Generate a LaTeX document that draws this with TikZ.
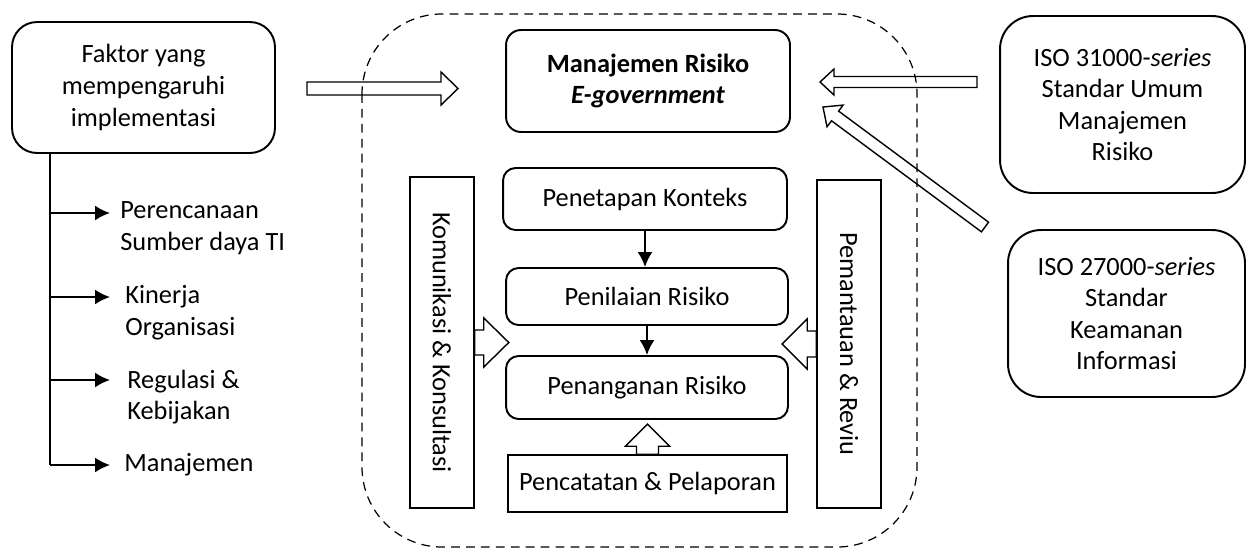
\documentclass[tikz,border=0pt]{standalone}
\usepackage{fontspec}
\setmainfont{Carlito}
\usetikzlibrary{calc,arrows.meta}

\newcommand{\hollowarrow}[5]{%
	\coordinate (ha) at ($(#2)!#5!(#1)$);
	\draw[hollow] ($(#1)!#3!90:(#2)$) -- ($(ha)!#3!90:(#2)$) -- ($(ha)!#4!90:(#2)$) -- (#2)
		-- ($(ha)!#4!-90:(#2)$) -- ($(ha)!#3!-90:(#2)$) -- ($(#1)!#3!-90:(#2)$) -- cycle;}

\begin{document}
\begin{tikzpicture}[x=0.02cm,y=-0.02cm,
		every node/.style={font=\fontsize{15}{18}\selectfont,align=center,inner sep=0pt},
		roundbox/.style={draw,line width=1.1pt,rounded corners=0.25cm},
		sharpbox/.style={draw,line width=0.9pt},
		item/.style={anchor=west,align=left},
		branch/.style={line width=1.1pt},
		tip/.style={-{Latex[length=8.5pt,width=8.5pt]}},
		hollow/.style={line width=0.8pt,line join=miter},
		frame/.style={line width=0.7pt,dash pattern=on 5pt off 3.5pt,rounded corners=1.6cm}]
	\useasboundingbox (0,0) rectangle (1247,549);
	\draw[frame] (362,14) rectangle (917,547);
	\node[roundbox,rounded corners=0.5cm,minimum width=5.26cm,minimum height=2.62cm] (faktor) at (143.5,87.5) {Faktor yang\\mempengaruhi\\implementasi};
	\node[roundbox,rounded corners=0.3cm,minimum width=5.68cm,minimum height=2.04cm] (mr) at (648,81) {\textbf{Manajemen Risiko}\\\textbf{\textit{E-government}}};
	\node[roundbox,minimum width=5.68cm,minimum height=1.24cm] (konteks) at (645,199) {Penetapan Konteks};
	\node[roundbox,minimum width=5.64cm,minimum height=1.14cm] (penilaian) at (647,296.5) {Penilaian Risiko};
	\node[roundbox,minimum width=5.64cm,minimum height=1.26cm] (penanganan) at (647,387.5) {Penanganan Risiko};
	\node[sharpbox,minimum width=5.58cm,minimum height=1.14cm] (pencatatan) at (647.5,483.5) {Pencatatan \& Pelaporan};
	\node[sharpbox,rotate=-90,minimum width=6.62cm,minimum height=1.28cm] (komunikasi) at (442,342.5) {Komunikasi \& Konsultasi};
	\node[sharpbox,rotate=-90,minimum width=6.56cm,minimum height=1.28cm] (pemantauan) at (849,344) {Pemantauan \& Reviu};
	\node[roundbox,rounded corners=0.66cm,minimum width=4.9cm,minimum height=3.54cm] (iso1) at (1122.5,104.5) {ISO 31000-\textit{series}\\Standar Umum\\Manajemen\\Risiko};
	\node[roundbox,rounded corners=0.66cm,minimum width=4.74cm,minimum height=3.34cm] (iso2) at (1126.5,313.5) {ISO 27000-\textit{series}\\Standar\\Keamanan\\Informasi};

	\node[item] (perencanaan) at (120,228) {Perencanaan\\Sumber daya TI};
	\node[item] (kinerja) at (125,312.5) {Kinerja\\Organisasi};
	\node[item] (regulasi) at (127,397) {Regulasi \&\\Kebijakan};
	\node[item] (manajemen) at (124,465) {Manajemen};

	\coordinate (b1) at (50,213);
	\coordinate (b2) at (50,297);
	\coordinate (b3) at (50,380);
	\coordinate (b4) at (50,465);
	\coordinate (tips) at (110,0);
	\draw[branch] (faktor.south -| b1) -- (b4);
	\foreach \b in {b1,b2,b3,b4}
		\draw[branch,tip] (\b) -- (\b -| tips);

	\draw[branch,tip] (konteks.south) -- (konteks.south |- penilaian.north);
	\draw[branch,tip] (penilaian.south) -- (penilaian.south |- penanganan.north);

	\coordinate (fa-s) at (307,88.5);
	\coordinate (fa-e) at (458,88.5);
	\coordinate (i1-s) at (977,82);
	\coordinate (i1-e) at (820,82);
	\coordinate (i2-s) at (985,227);
	\coordinate (i2-e) at (823,107);
	\hollowarrow{fa-s}{fa-e}{0.13cm}{0.33cm}{0.34cm}
	\hollowarrow{i1-s}{i1-e}{0.11cm}{0.26cm}{0.28cm}
	\hollowarrow{i2-s}{i2-e}{0.12cm}{0.27cm}{0.3cm}
	\hollowarrow{komunikasi.north}{$(komunikasi.north)+(34,0)$}{0.25cm}{0.49cm}{0.5cm}
	\hollowarrow{pemantauan.south}{$(pemantauan.south)+(-34,0)$}{0.26cm}{0.5cm}{0.5cm}
	\hollowarrow{pencatatan.north}{$(pencatatan.north)+(0,-30)$}{0.22cm}{0.44cm}{0.44cm}
\end{tikzpicture}
\end{document}
